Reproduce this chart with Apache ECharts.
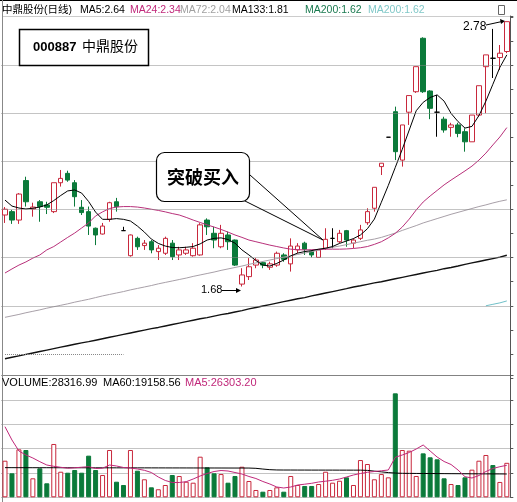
<!DOCTYPE html>
<html><head><meta charset="utf-8">
<script src="https://cdn.jsdelivr.net/npm/echarts@6/dist/echarts.min.js"></script>
<style>html,body{margin:0;padding:0;background:#fff;}#c{width:517px;height:502px;}</style>
</head><body><div id="c"></div>
<script>
// ---- data ----
const open  = [1.977,1.991,1.956,2.120,2.002,2.032,2.019,1.991,2.111,2.150,
               2.111,2.009,1.991,1.922,1.898,1.959,2.032,1.912,1.808,1.880,
               1.850,1.866,1.825,1.818,1.860,1.811,1.818,1.808,1.811,1.956,
               1.901,1.845,1.894,1.873,1.690,1.721,1.769,1.779,1.760,1.769,
               1.811,1.774,1.832,1.860,1.825,1.801,1.839,1.880,1.866,1.912,
               1.860,1.880,1.945,2.005,2.178,2.300,2.406,2.205,2.404,2.489,
               2.711,2.492,2.404,2.375,2.341,2.351,2.323,2.281,2.392,2.593,
               2.628,2.631,2.656];
const close = [2.001,1.956,2.064,2.032,2.010,2.012,2.009,2.111,2.129,2.122,
               2.053,1.987,1.931,1.894,1.931,2.028,2.012,1.912,1.894,1.845,
               1.860,1.832,1.839,1.880,1.804,1.832,1.832,1.839,1.936,1.928,
               1.873,1.901,1.866,1.769,1.728,1.762,1.790,1.769,1.774,1.818,
               1.793,1.848,1.848,1.835,1.811,1.832,1.876,1.880,1.901,1.873,
               1.873,1.915,1.991,2.092,2.192,2.300,2.240,2.351,2.473,2.593,
               2.489,2.420,2.404,2.330,2.351,2.316,2.281,2.392,2.514,2.642,
               2.628,2.649,2.780];
const low   = [1.944,1.940,1.940,2.012,1.970,1.949,1.981,1.985,2.095,2.115,
               2.012,1.977,1.894,1.852,1.896,1.949,1.991,1.912,1.804,1.832,
               1.832,1.818,1.790,1.811,1.790,1.790,1.811,1.804,1.808,1.894,
               1.839,1.839,1.832,1.765,1.680,1.707,1.756,1.756,1.749,1.762,
               1.783,1.742,1.818,1.811,1.801,1.801,1.832,1.839,1.860,1.845,
               1.839,1.873,1.936,1.991,2.143,2.300,2.205,2.178,2.351,2.484,
               2.484,2.375,2.302,2.319,2.302,2.300,2.240,2.281,2.385,2.400,
               2.546,2.579,2.649];
const high  = [2.010,1.998,2.068,2.136,2.028,2.039,2.032,2.111,2.164,2.161,
               2.122,2.039,2.012,1.925,1.944,2.032,2.048,1.928,1.896,1.887,
               1.873,1.873,1.852,1.887,1.873,1.845,1.845,1.860,1.943,1.963,
               1.928,1.936,1.908,1.875,1.756,1.798,1.798,1.783,1.783,1.825,
               1.818,1.880,1.860,1.866,1.832,1.835,1.922,1.922,1.915,1.915,
               1.880,1.936,2.005,2.092,2.192,2.300,2.427,2.351,2.473,2.593,
               2.715,2.495,2.475,2.385,2.360,2.360,2.337,2.392,2.514,2.642,
               2.750,2.683,2.780];
const ma5   = [2.039,2.014,2.006,2.002,2.005,2.010,2.019,2.037,2.058,2.077,
               2.081,2.068,2.033,1.989,1.959,1.959,1.962,1.959,1.952,1.931,
               1.906,1.877,1.859,1.848,1.842,1.841,1.843,1.846,1.857,1.873,
               1.880,1.882,1.875,1.860,1.832,1.811,1.788,1.769,1.765,1.776,
               1.790,1.807,1.819,1.825,1.829,1.835,1.839,1.846,1.859,1.869,
               1.879,1.894,1.920,1.960,2.030,2.100,2.175,2.250,2.330,2.410,
               2.445,2.465,2.476,2.450,2.399,2.365,2.338,2.345,2.390,2.450,
               2.520,2.590,2.642];
const ma24  = [1.736,1.753,1.769,1.782,1.798,1.811,1.832,1.846,1.865,1.884,
               1.902,1.923,1.944,1.973,1.990,2.004,2.010,2.012,2.012,2.010,
               2.006,2.001,1.996,1.990,1.983,1.977,1.967,1.956,1.946,1.936,
               1.927,1.917,1.906,1.894,1.884,1.873,1.866,1.859,1.852,1.846,
               1.840,1.835,1.833,1.832,1.833,1.834,1.835,1.835,1.835,1.836,
               1.838,1.841,1.846,1.855,1.866,1.882,1.901,1.927,1.960,1.998,
               2.031,2.056,2.079,2.102,2.122,2.141,2.160,2.180,2.205,2.234,
               2.268,2.301,2.340];
const ma72  = [1.552,1.558,1.564,1.571,1.577,1.583,1.590,1.596,1.602,1.608,
               1.615,1.621,1.627,1.634,1.641,1.647,1.653,1.659,1.666,1.672,
               1.678,1.684,1.691,1.697,1.703,1.709,1.715,1.722,1.728,1.734,
               1.740,1.747,1.753,1.759,1.765,1.772,1.778,1.784,1.790,1.796,
               1.802,1.808,1.813,1.819,1.825,1.831,1.837,1.843,1.848,1.854,
               1.860,1.866,1.872,1.877,1.884,1.893,1.902,1.913,1.923,1.933,
               1.944,1.953,1.962,1.971,1.980,1.988,1.996,2.004,2.012,2.019,
               2.027,2.034,2.040];
const ma133 = [1.380,1.386,1.392,1.398,1.404,1.410,1.416,1.422,1.428,1.434,
               1.440,1.446,1.451,1.457,1.463,1.469,1.475,1.481,1.487,1.493,
               1.499,1.505,1.510,1.516,1.522,1.528,1.534,1.540,1.546,1.551,
               1.557,1.563,1.568,1.574,1.580,1.587,1.593,1.599,1.605,1.611,
               1.617,1.623,1.629,1.634,1.641,1.647,1.653,1.659,1.665,1.671,
               1.678,1.683,1.689,1.695,1.700,1.706,1.712,1.718,1.724,1.730,
               1.736,1.742,1.747,1.754,1.759,1.765,1.772,1.778,1.784,1.790,
               1.796,1.802,1.810];
const ma200 = [null,null,null,null,null,null,null,null,null,null,
               null,null,null,null,null,null,null,null,null,null,
               null,null,null,null,null,null,null,null,null,null,
               null,null,null,null,null,null,null,null,null,null,
               null,null,null,null,null,null,null,null,null,null,
               null,null,null,null,null,null,null,null,null,null,
               null,null,null,null,null,null,null,null,null,1.600,
               1.606,1.612,1.620];
const volume = [30060,19700,39400,38850,15600,23800,11500,43800,21000,20200,
                22400,20200,34200,22400,18300,38850,12800,10100,38850,21850,
                14800,8200,6600,10100,18300,17500,12800,12000,33350,24600,
                19700,19100,12000,17500,25100,13400,6000,4600,6000,8200,
                4600,17500,10100,9300,9300,10900,21000,12000,13600,16400,
                10100,30600,27350,14800,19100,16400,85400,38850,38300,17500,
                36100,32850,31200,15600,10900,10100,16400,22700,30060,34750,
                26500,12600,28317];
const volMa5 = [58000,47070,38030,34750,32280,29240,26530,25460,24640,23900,
                24230,24720,25130,23650,23900,26530,25710,24480,24070,23250,
                22180,20370,16670,13800,12160,12160,12810,15030,17500,19550,
                21190,22010,21600,20370,19140,17090,15440,12980,10920,8460,
                7640,8460,10100,10760,11500,12570,13220,13960,15030,16670,
                18320,19550,20540,21190,21770,22420,32860,34740,36800,39670,
                42960,38030,33100,29410,26940,22420,16920,15850,17910,21190,
                23660,25130,26303];
const volMa60 = [24350,24340,24330,24320,24310,24300,24300,24290,24280,24270,
                 24260,24250,24240,24230,24220,24210,24200,24200,24190,24180,
                 24170,24160,24150,24140,24130,24120,24110,24100,24090,24080,
                 24070,24060,24050,24040,24030,24020,23800,23200,22700,22450,
                 22400,22400,22380,22380,22360,22360,22340,22340,22320,22320,
                 22300,22300,22100,21500,20900,20300,19900,19700,19650,19600,
                 19560,19520,19480,19440,19400,19370,19340,19310,19280,19250,
                 19220,19190,19159];
const priceGrid = [2.6, 2.4, 2.2, 2.0, 1.8, 1.6];
const partialGrid = { value: 1.4, fromIndex: 0, toIndex: 17 };
const titleItems = [
  ['中鼎股份(日线)', 2, '#000'], ['MA5:2.64', 80, '#000'], ['MA24:2.34', 130, '#c0287a'],
  ['MA72:2.04', 180, '#a0a0a0'], ['MA133:1.81', 232, '#000'], ['MA200:1.62', 305, '#1a7a50'],
  ['MA200:1.62', 368, '#80c8c8']
];
const volTitle = [['VOLUME:28316.99', 2, '#000'], ['MA60:19158.56', 103, '#000'], ['MA5:26303.20', 185, '#c0287a']];

// ---- chart ----
const UP = '#c8283c', DOWN = '#0b7a3a';
const FONT = '"Liberation Sans","Noto Sans CJK SC",sans-serif';
const cats = open.map((_, i) => String(i + 1));
const candleData = open.map((o, i) => [o, close[i], low[i], high[i]]);
const volData = volume.map((v, i) => {
  const up = close[i] !== open[i] ? close[i] > open[i] : (i === 0 || close[i] >= close[i - 1]);
  return { value: v, itemStyle: up ? { color: '#fff', borderColor: UP, borderWidth: 1 } : { color: DOWN, borderColor: DOWN, borderWidth: 1 } };
});
const lineS = (data, color, width, xi, yi, z) => ({
  type: 'line', data, xAxisIndex: xi, yAxisIndex: yi, symbol: 'none', showSymbol: false,
  lineStyle: { color, width }, itemStyle: { color }, z: z || 3, silent: true, connectNulls: false
});
const graphic = [
  { type: 'line', shape: { x1: 0, y1: 0.5, x2: 517, y2: 0.5 }, style: { stroke: '#000', lineWidth: 1 } },
  { type: 'line', shape: { x1: 2.5, y1: 0, x2: 2.5, y2: 502 }, style: { stroke: '#888', lineWidth: 1 } },
  { type: 'line', shape: { x1: 3, y1: 16.5, x2: 510, y2: 16.5 }, style: { stroke: '#ccc', lineWidth: 1 } },
  { type: 'line', shape: { x1: 3, y1: 375.5, x2: 510, y2: 375.5 }, style: { stroke: '#777', lineWidth: 1 } },
  { type: 'rect', shape: { x: 498.5, y: 5.5, width: 6, height: 9 }, style: { fill: 'none', stroke: '#666', lineWidth: 1 } },
  // code box
  { type: 'rect', shape: { x: 19.5, y: 29.5, width: 129, height: 36 }, style: { fill: '#fff', stroke: '#000', lineWidth: 1.5 }, z: 10 },
  { type: 'text', x: 33, y: 47.5, style: { text: '000887', font: 'bold 13px ' + FONT, fill: '#000', textVerticalAlign: 'middle' }, z: 11 },
  { type: 'text', x: 82, y: 47.5, style: { text: '中鼎股份', font: '14px ' + FONT, fill: '#000', textVerticalAlign: 'middle' }, z: 11 },
  // breakout callout
  { type: 'line', shape: { x1: 250, y1: 175, x2: 323, y2: 240 }, style: { stroke: '#000', lineWidth: 1 }, z: 9 },
  { type: 'line', shape: { x1: 245, y1: 201, x2: 323, y2: 240 }, style: { stroke: '#000', lineWidth: 1 }, z: 9 },
  { type: 'rect', shape: { x: 156.5, y: 152.5, width: 93, height: 49, r: 8 }, style: { fill: '#fff', stroke: '#000', lineWidth: 1.2 }, z: 10 },
  { type: 'text', x: 203, y: 177, style: { text: '突破买入', font: 'bold 18px "Noto Sans CJK SC",sans-serif', fill: '#000', textAlign: 'center', textVerticalAlign: 'middle' }, z: 11 },
  // low label
  { type: 'text', x: 201, y: 290, style: { text: '1.68', font: '11px ' + FONT, fill: '#000', textVerticalAlign: 'middle' }, z: 11 },
  { type: 'line', shape: { x1: 222, y1: 290.5, x2: 238, y2: 290.5 }, style: { stroke: '#000', lineWidth: 1 }, z: 11 },
  { type: 'polygon', shape: { points: [[241, 290.5], [236, 288], [236, 293]] }, style: { fill: '#000' }, z: 11 },
  // high label
  { type: 'text', x: 463, y: 27, style: { text: '2.78', font: '12px ' + FONT, fill: '#000', textVerticalAlign: 'middle' }, z: 11 },
  { type: 'line', shape: { x1: 486, y1: 25, x2: 502, y2: 21.5 }, style: { stroke: '#000', lineWidth: 1 }, z: 11 },
  { type: 'polygon', shape: { points: [[505, 21], [500, 19], [501, 24]] }, style: { fill: '#000' }, z: 11 }
];
titleItems.forEach(t => graphic.push({ type: 'text', x: t[1], y: 10, style: { text: t[0], font: '10.5px ' + FONT, fill: t[2], textVerticalAlign: 'middle' }, z: 11 }));
volTitle.forEach(t => graphic.push({ type: 'text', x: t[1], y: 383, style: { text: t[0], font: '11px ' + FONT, fill: t[2], textVerticalAlign: 'middle' }, z: 11 }));

const gridMarks = priceGrid.map(v => ({ yAxis: v }));
gridMarks.push([{ xAxis: partialGrid.fromIndex, yAxis: partialGrid.value }, { xAxis: partialGrid.toIndex, yAxis: partialGrid.value }]);

const chart = echarts.init(document.getElementById('c'), null, { renderer: 'canvas', width: 517, height: 502 });
chart.setOption({
  animation: false,
  backgroundColor: '#fff',
  grid: [
    { left: 1.5, right: 6.7, top: 16, height: 362 },
    { left: 1.5, right: 6.7, top: 375, height: 122.3 }
  ],
  xAxis: [
    { type: 'category', data: cats, gridIndex: 0, boundaryGap: true, show: false },
    { type: 'category', data: cats, gridIndex: 1, boundaryGap: true, show: false }
  ],
  yAxis: [
    { type: 'value', gridIndex: 0, position: 'right', min: 1.3, max: 2.8035, interval: 0.1,
      axisLine: { show: true, lineStyle: { color: '#555' } }, axisTick: { show: true, inside: false, length: 3, lineStyle: { color: '#555' } },
      axisLabel: { show: false }, splitLine: { show: false } },
    { type: 'value', gridIndex: 1, position: 'right', min: 0, max: 100457, interval: 20000,
      axisLine: { show: true, lineStyle: { color: '#555' } }, axisTick: { show: true, inside: false, length: 3, lineStyle: { color: '#555' } },
      axisLabel: { show: false }, splitLine: { show: true, lineStyle: { type: 'dotted', color: '#888', width: 1 } } }
  ],
  series: [
    { type: 'candlestick', xAxisIndex: 0, yAxisIndex: 0, data: candleData, barWidth: 5, silent: true,
      itemStyle: { color: '#fff', color0: DOWN, borderColor: UP, borderColor0: DOWN, borderColorDoji: '#000', borderWidth: 1 },
      markLine: { silent: true, symbol: ['none', 'none'], label: { show: false }, animation: false,
        lineStyle: { type: 'dotted', color: '#888', width: 1 }, data: gridMarks } },
    lineS(ma133, '#111', 1.4, 0, 0, 3),
    lineS(ma72, '#a8a0a8', 1, 0, 0, 3),
    lineS(ma24, '#b8307a', 1, 0, 0, 3),
    lineS(ma200, '#70c0c8', 1, 0, 0, 3),
    lineS(ma5, '#000', 1, 0, 0, 4),
    { type: 'bar', xAxisIndex: 1, yAxisIndex: 1, data: volData, barWidth: 5, silent: true },
    lineS(volMa60, '#000', 1, 1, 1, 4),
    lineS(volMa5, '#c0287a', 1, 1, 1, 4)
  ],
  graphic
});
</script></body></html>
